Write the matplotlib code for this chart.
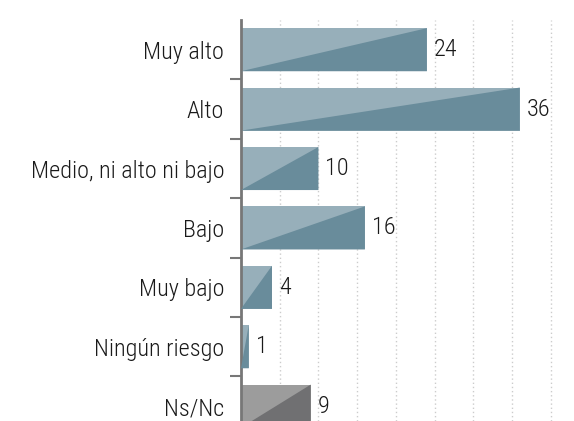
import matplotlib
matplotlib.use("Agg")
import matplotlib.pyplot as plt
from matplotlib.patches import Polygon
from matplotlib import font_manager

categories = ["Muy alto", "Alto", "Medio, ni alto ni bajo", "Bajo",
              "Muy bajo", "Ningún riesgo", "Ns/Nc"]
values = [24, 36, 10, 16, 4, 1, 9]

light = ["#97afba"] * 6 + ["#9c9c9c"]
dark = ["#698c9b"] * 6 + ["#707072"]

# pick a narrow font if one is installed
fonts = font_manager.fontManager.ttflist
names = {f.name for f in fonts}
stretch = "normal"
family = "Roboto"
for n in ["Liberation Sans Narrow", "Roboto Condensed", "Open Sans Condensed"]:
    if n in names:
        family = n
        break
else:
    if any(f.name == "DejaVu Sans" and f.stretch in ("condensed", 500) or
           (f.name == "DejaVu Sans" and "Condensed" in f.fname) for f in fonts):
        family = "DejaVu Sans"
        stretch = "condensed"

plt.rcParams['font.family'] = [family, 'DejaVu Sans']
plt.rcParams['font.stretch'] = stretch
plt.rcParams['font.weight'] = 'light'

fig = plt.figure(figsize=(5.74, 4.21), dpi=100)
ax = fig.add_axes([241 / 574, 0, 1 - 241 / 574, 401 / 421])

h = 0.725
pos = list(range(len(categories)))
ax.barh(pos, values, height=h, color=light, zorder=2)
for y, v, c in zip(pos, values, dark):
    # dark lower-right triangle: bottom-left -> top-right diagonal
    tri = Polygon([(0, y + h / 2), (v, y - h / 2), (v, y + h / 2)],
                  closed=True, facecolor=c, edgecolor="none", zorder=3)
    ax.add_patch(tri)
    ax.text(v + 0.9, y, str(v), va="center", ha="left", fontsize=17.5,
            color="#1a1a1a")

ax.set_xlim(0, 43)
ax.set_ylim(6.25, -0.5)

ax.set_xticks(range(5, 45, 5))
ax.xaxis.grid(True, linestyle=(0, (1, 2)), color="#cccccc", linewidth=1, zorder=0)
ax.tick_params(axis="x", length=0, labelbottom=False)

ax.set_yticks([p + 0.5 for p in pos[:-1]])
ax.set_yticks(pos, minor=True)
ax.set_yticklabels([])
ax.set_yticklabels(categories, minor=True, fontsize=17.5, color="#1a1a1a")
ax.tick_params(axis="y", which="major", direction="out", length=8,
               width=1.5, color="#777777")
ax.tick_params(axis="y", which="minor", length=0, pad=12)

for s in ["top", "right", "bottom"]:
    ax.spines[s].set_visible(False)
ax.spines["left"].set_color("#777777")
ax.spines["left"].set_linewidth(2)
ax.set_axisbelow(True)

fig.savefig("out.png", dpi=100)
